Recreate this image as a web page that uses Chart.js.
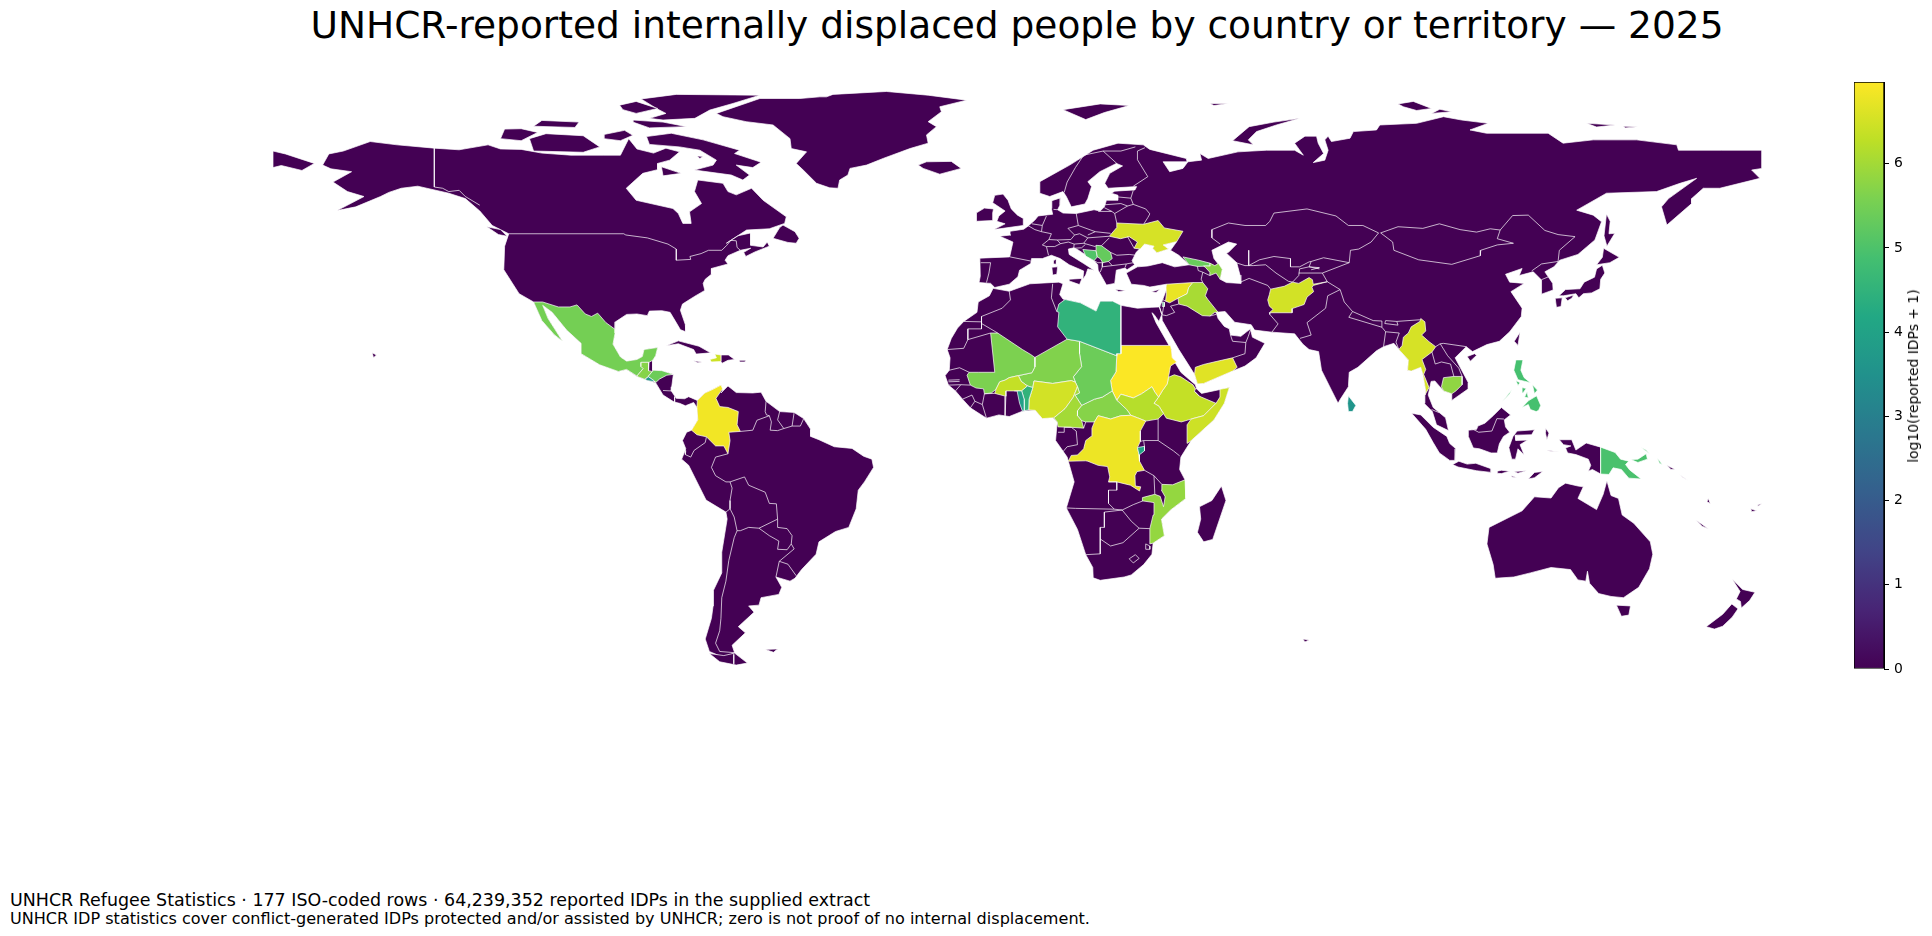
<!DOCTYPE html>
<html>
<head>
<meta charset="utf-8">
<script src="https://cdn.jsdelivr.net/npm/chart.js@4/dist/chart.umd.min.js"></script>
<style>
  html, body { margin: 0; background: #fff; overflow: hidden; font-family: "DejaVu Sans", sans-serif; color: #000; }
  canvas { position: absolute; }
  .txt { position: absolute; white-space: nowrap; }
  #title { left: 1px; width: 2032px; top: 2px; text-align: center; font-size: 37.5px; line-height: 46px; }
  #foot1 { left: 10px; top: 890px; font-size: 17.45px; line-height: 20px; }
  #foot2 { left: 10px; top: 910px; font-size: 16.07px; line-height: 18px; }
  #cblabel { left: 1913px; top: 376px; font-size: 13.9px; transform: translate(-50%, -50%) rotate(-90deg); }
</style>
</head>
<body>
<div class="txt" id="title">UNHCR-reported internally displaced people by country or territory — 2025</div>
<canvas id="map" width="1489" height="579" style="left:273px;top:89px"></canvas>
<canvas id="bar" width="62" height="627" style="left:1854px;top:62px"></canvas>
<div class="txt" id="cblabel">log10(reported IDPs + 1)</div>
<div class="txt" id="foot1">UNHCR Refugee Statistics · 177 ISO-coded rows · 64,239,352 reported IDPs in the supplied extract</div>
<div class="txt" id="foot2">UNHCR IDP statistics cover conflict-generated IDPs protected and/or assisted by UNHCR; zero is not proof of no internal displacement.</div>
<script>
// all outlines are flat lists: lon, lat, lon, lat ...
const countryNames = ['Mexico','Guatemala','Honduras','El Salvador','Colombia','Haiti','Syria','Iraq','Palestine','Ukraine','Georgia','Azerbaijan','Bosnia','Serbia','Afghanistan','Myanmar','Cambodia','Yemen','Ethiopia','Somalia','Sudan','South Sudan','CAR','Chad','Niger','Mali','Burkina Faso','Nigeria','Cameroon','Benin','Togo','DR Congo','Burundi','Mozambique','Libya','Sri Lanka','Philippines','Papua New Guinea'];
const logIdps = [5.5,5.7,5.4,3.8,6.85,6.45,6.75,6.05,4.6,6.55,5.35,5.75,5.05,5.3,6.5,6.55,5.8,6.65,6.35,6.45,6.95,6.2,5.7,5.4,5.65,5.6,6.35,6.5,6.0,4.5,3.9,6.8,4.0,5.85,4.5,3.6,4.9,4.95];
const countryRings = [
  [[-117,32.5,-114.8,32.5,-111,31.3,-108.2,31.3,-106.5,31.8,-104.5,29.6,-103,29,-101.5,29.8,-99.5,27.5,-97.3,25.9,-97.3,25,-97.8,22.3,-96,19.2,-94.5,18.2,-92,18.6,-90.7,19.3,-90.3,21,-87,21.5,-87.5,19.5,-88.2,18.4,-89.1,17.9,-91,17.9,-91,16.9,-90.5,16.4,-92,14.6,-94.5,16.2,-96.5,15.7,-101,17.3,-105.5,20,-105.5,22.5,-109,25.7,-112.5,30,-114.8,31.7,-113.5,28.5,-110,23,-112,24.6,-115,28,-117,32.5]],
  [[-92,14.6,-90.5,16.4,-91,16.9,-91,17.9,-89.1,17.9,-89.2,15.9,-88.3,15.7,-89.2,14.6,-90.1,13.8,-92,14.5,-92,14.6]],
  [[-89.2,14.6,-88.3,15.7,-88.2,16,-86,15.9,-83.2,15,-84.8,14.8,-86.5,13.9,-87.5,13,-87.8,13.4,-89.2,14.4,-89.2,14.6]],
  [[-90.1,13.8,-89.2,14.4,-87.8,13.4,-87.7,13.2,-89.5,13.5,-90.1,13.8]],
  [[-77.4,8.7,-75.6,10.5,-74,11.2,-71.7,12.4,-71.3,11.5,-72.9,9.2,-72,7.2,-70,7,-67.5,6,-67.8,2.8,-67,1.2,-69.8,1,-69.5,-1,-70,-4.2,-71,-2.3,-73,-2.3,-75.2,-0.1,-77.5,0.4,-78.8,1.5,-77.3,4,-77.5,7,-77.4,8.7]],
  [[-71.7,19.7,-73.2,19.9,-72.8,19,-74.4,18.6,-74,18,-71.7,18.1,-71.7,19.7]],
  [[35.9,35.9,36,36.8,42.4,37.2,41.4,36,41,34.5,38.8,33.4,36.8,32.3,35.8,32.7,36,34.6,35.9,35.9]],
  [[42.4,37.2,44.8,37.2,46,35.7,45.4,34,46.1,33,47.7,31,48.5,30,47.7,30,46.5,29.1,44.7,29.2,41,31.5,39,32,38.8,33.4,41,34.5,41.4,36,42.4,37.2]],
  [[35,32.5,35.5,32.4,35.5,31.4,35,31.4,35,32.5],[34.2,31.3,34.5,31.6,34.4,31.2,34.2,31.3]],
  [[22.2,48.4,24,50.5,24,51.6,30.5,51.3,34,52.2,35.5,50.4,40,49.6,38.5,47.1,35.2,46.3,36.5,45.3,33.7,44.4,32.7,45.5,33,46,30.7,46.5,29.7,45.3,28.2,45.5,29,47,27,48.3,24.9,47.8,22.2,48.4]],
  [[40,43.4,41.5,41.5,43.5,41.1,46.6,41.2,46.5,41.9,43.8,42.6,40,43.4]],
  [[46.5,41.9,47.7,41.3,48.6,41.8,49.5,40.4,49,38,48,39.5,46.5,38.9,46.5,39.7,45.5,40.8,45,41.2,46.6,41.2,46.5,41.9]],
  [[15.8,45.2,19,44.9,19.3,43.4,18.5,42.5,16.5,43.6,15.8,45.2]],
  [[19,46.2,20.3,46.1,22.5,44.5,22.9,43,22,42.3,20.6,42,20,43,19.3,43.4,19,44.9,19,46.2]],
  [[60.9,34.3,61.2,35.6,64.5,36.3,66.5,37.3,68,37,70.5,38.4,71.3,37.9,71.5,36.8,74.9,37.4,71.5,36.5,71.2,36,71.6,35,70,33.7,69.3,31.9,66.4,30.9,66.4,29.9,60.9,29.9,61.8,30.7,60.9,31.5,60.5,33,60.9,34.3]],
  [[92.2,21,93,22,93.3,24,94.5,25,95.2,26.5,97.3,27.8,97.5,28.5,98.5,27.7,98.7,25.5,97.7,24.5,99.5,22.9,101.1,21.7,100.2,20.4,97.8,18.6,98.7,16.2,98.2,15,99.5,11.8,98.5,10,98.7,11,98,15,97.5,16.7,95.2,15.8,94.3,16,94.5,18.5,92.2,21]],
  [[102.5,12,103,14.2,105.5,14.5,107.5,14.5,107.5,12.5,106,11,105,10.3,103,11,102.5,12]],
  [[43.5,12.7,42.8,15,43,16.7,45,17.4,48,18.1,52,19,53.1,16.7,52,15.8,45,12.8,43.5,12.7]],
  [[36.5,14.3,37.9,14.9,39.5,14.4,42.4,12.5,43,11.5,42.8,10.9,44,9.7,48,8,45,5,42,4.2,41,3.9,39.6,3.5,36,4.4,35.3,5.5,34.2,7.3,33,8,34.1,9.5,35,11,36.2,12.7,36.5,14.3]],
  [[48.95,11.4,51.2,11.8,50,8,47.5,4,42,-1,41,-1.7,41,2.8,42,4.2,45,5,48,8,48.95,9.5,48.95,11.4]],
  [[24,20,25,20,25,22,37,22,37.2,21,37.4,19,38.5,18,37,17,36.5,14.3,36.2,12.7,35,11,34.1,9.5,33.2,10.7,32.5,12,30,10.3,28,9.3,25,10.2,24,8.7,22.9,11,22.5,13.5,23.8,15.6,24,19.5,24,20]],
  [[24,8.7,25,10.2,28,9.3,30,10.3,32.5,12,33.2,10.7,34.1,9.5,33,8,34.2,7.3,35.3,5.5,34,4.2,31,3.7,29,4.5,27.4,5.1,26.4,6.5,24.5,8.3,24,8.7]],
  [[14.5,6.2,15.5,7.5,18.6,9,20.5,9.5,22.9,11,24,8.7,24.5,8.3,26.4,6.5,27.4,5.1,25,5,22.5,4.2,19.5,5,18.6,3.5,16.5,3.5,15.5,3.8,14.5,5,14.5,6.2]],
  [[15,23,24,19.5,23.8,15.6,22.5,13.5,22.9,11,20.5,9.5,18.6,9,15.5,7.5,13.9,10,15,10.5,14.5,12,14,13.1,13.5,14.4,15.5,16.9,15,20,15,23]],
  [[4.2,19.1,12,23.5,15,23,15,20,15.5,16.9,13.5,14.4,14,13.1,13,13.5,8.5,12.8,4,13.4,3.7,11.8,2.4,12.2,0.9,13.3,0.2,14.7,3.5,15.4,4.2,16.8,4.2,19.1]],
  [[-6.5,25,-4.8,25,1.2,21,3.2,19.8,4.2,19.1,4.2,16.8,3.5,15.4,0.2,14.7,-2,14.2,-3,13.6,-4.3,13.2,-5.2,11.4,-6.3,10.5,-8,10.3,-8.2,11.5,-10,11.7,-11.4,12.4,-12.2,14.8,-11.7,15.5,-9.5,15.5,-5.5,15.5,-6.5,25]],
  [[-2.8,9.7,-5.5,10.4,-5.2,11.4,-4.3,13.2,-3,13.6,-2,14.2,0.2,14.7,0.9,13.3,2.4,12.2,1,11,-0.8,11,-2.8,11,-2.8,9.7]],
  [[2.7,6.4,2.8,9,3.7,11.8,4,13.4,8.5,12.8,13,13.5,14,13.1,14.5,12,13.5,9.5,11.5,6.7,8.8,4.5,6,4.3,4.3,6.3,2.7,6.4]],
  [[8.8,4.5,11.5,6.7,13.5,9.5,14.5,12,15,10.5,13.9,10,15.5,7.5,14.5,6.2,14.5,5,15.5,3.8,16,2,13,2.2,9.8,2.3,9.6,3.5,8.8,4.5]],
  [[1.6,6.2,2.7,6.4,2.8,9,3.7,11.8,2.4,12.2,1,11,1.6,9,1.6,6.2]],
  [[1.2,6.1,1.6,6.2,1.6,9,1,11,-0.1,11,0.5,8,1.2,6.1]],
  [[12.3,-6,13,-4.6,14.5,-4.5,16,-3,16.5,-1,17.8,0,18,2,18.6,3.5,19.5,5,22.5,4.2,25,5,27.4,5.1,29,4.5,31,3.7,29.7,1.3,29.7,-1.2,29,-2.7,29.4,-4.5,29.5,-6,30.7,-8.2,28.9,-8.5,28.4,-9.5,28.5,-12,29.8,-12.2,29.5,-13.2,27.3,-11.8,24,-11,22,-11,22.3,-9.8,21.8,-7.3,19.5,-7,17,-6,16.5,-5.9,12.3,-6]],
  [[29,-2.7,30.7,-2.4,30.7,-3.5,29.4,-4.5,29,-2.7]],
  [[40.5,-10.5,40.7,-15,37,-17.8,34.8,-20,35.5,-24,32.8,-25.8,32,-26,32,-22.3,32.8,-19,33,-16,30.3,-15.6,30.2,-14.8,33.2,-14,34.5,-14.5,35.3,-17,35.7,-14.6,34.8,-13,34.9,-11.6,37.5,-11.7,40.5,-10.5]],
  [[10,30,9.5,30.2,10,32,11.5,33.1,15.2,32.3,19,30.3,20,32.7,23,32.7,25,31.7,25,20,24,20,24,19.5,15,23,12,23.5,9.7,26.5,10,30]],
  [[80,9.8,81.8,7.5,81,6,80,6,79.8,8,80,9.8]],
  [[120.5,18.5,122.2,18.5,121.7,16,122.5,14.2,124,13,121,13.7,120,16,120.5,18.5],[122,7,123.5,8.6,125.5,9.8,126.5,7.5,126,6.3,125.4,6,124,6.5,123.5,7.7,122,7],[124.5,12.5,125.7,11.2,125,10.3,124.5,12.5],[122,11.8,123,11.6,122.2,10.5,122,11.8],[123.2,10.8,123.5,9.3,122.6,9.5,123.2,10.8],[117.2,8.4,119.5,11.3,119,10.3,117.2,8.4],[120.5,13.5,121.5,13,121,12.3,120.5,13.5]],
  [[141,-2.6,144.5,-3.9,145.8,-5.5,147.8,-6,147,-6.8,148,-8.1,150.8,-10.3,147.8,-10.1,146,-8,144,-7.6,143,-9.2,141,-9.1,141,-2.6],[148.3,-5.6,150,-5.5,152,-4.2,152.3,-5.5,150,-6.3,148.3,-5.6],[150.8,-2.7,152.8,-4.2,152,-3.3,150.8,-2.7],[154.7,-5.2,155.9,-6.8,155.2,-6.5,154.7,-5.2]]
];
// land with no reported IDPs, drawn first at value 0
const landRings = [
  [-168,65.6,-166.5,68.3,-163,69,-156.5,71.3,-150,70.5,-141,69.7,-135,69.3,-128,70.5,-125,69.5,-120,69.4,-115,68.5,-108,68,-100,68,-96,68,-94,72,-92,69.5,-88,68.5,-85,69.7,-81.7,68.8,-84.1,66.8,-87,66,-87,64.5,-90.6,63.6,-94.6,60,-92.2,57.1,-83.3,55.1,-82,53.9,-80.9,51.5,-78.9,51.5,-79.3,54.3,-76.4,56.3,-78.1,59.2,-77.3,62,-71.2,61.2,-70,59.2,-68,58.4,-64.3,60,-61.5,57.1,-55.9,53.1,-56.3,51.5,-60,50.2,-65.5,49.9,-70.4,46.7,-67.6,48.5,-64.5,49.2,-64.5,47.9,-64.5,46.2,-61.5,45.8,-60.5,47,-60,46,-63.5,44.6,-65.7,43.5,-66.2,44.5,-64.5,45.5,-67,45,-70,43.7,-70.7,42.6,-70,41.7,-74,40.6,-74,39.2,-75.5,38,-76,37,-75.6,35.3,-78,33.9,-81,32,-81.5,30.5,-80.3,27,-80.2,25.3,-81.5,25.8,-82.8,28,-84,30,-86,30.4,-89,30.3,-89.5,29.2,-92,29.6,-94.5,29.5,-97.2,27.7,-97.3,25,-97.8,22.3,-96,19.2,-94.5,18.2,-92,18.6,-90.7,19.3,-90.3,21,-87,21.5,-87.5,19.5,-88.2,18.4,-88.2,16,-86,15.9,-83.2,15,-83.6,12,-83.7,11,-82.5,9.2,-80.5,9.1,-79.5,9.6,-77.4,8.7,-75.6,10.5,-74,11.2,-71.7,12.4,-71.3,11,-71.7,10.5,-70,12.2,-68,10.6,-64,10.5,-62,10.7,-60.8,8.5,-57.5,6,-54,5.8,-51.7,4.3,-50,1.7,-50,0,-48,-0.8,-44.3,-2.5,-40,-2.9,-37.2,-4.8,-35.2,-5.5,-34.8,-7.5,-37,-11,-38.5,-13,-39,-17.5,-40.8,-22,-44,-23,-48,-25.5,-48.7,-28.5,-52.2,-32.2,-53.8,-34.3,-55,-35,-58.4,-34,-57,-36.5,-57.7,-38.2,-62,-39,-62.5,-40.8,-65,-41,-63.7,-42.5,-65.3,-44,-67.5,-46,-65.8,-47.5,-69,-50.5,-68.4,-52.3,-71,-53.5,-74.5,-52,-75.5,-49,-74,-44,-73.6,-41,-73.5,-37.2,-71.5,-33,-71.5,-28,-70.2,-20,-70.5,-18.3,-75.3,-15.4,-77,-12,-79.5,-7,-81.2,-5.5,-80.2,-3,-81,-1,-80,1,-78.8,1.5,-77.3,4,-77.5,7,-78.3,8.2,-80.3,7.4,-81.7,8,-83,8.3,-85.7,10,-87.5,13,-89.5,13.5,-92,14.5,-94.5,16.2,-96.5,15.7,-101,17.3,-105.5,20,-105.5,22.5,-109,25.7,-112.5,30,-114.8,31.7,-113.5,28.5,-110,23,-112,24.6,-115,28,-117,32.5,-120.5,34.5,-124.2,40.3,-124,46,-123,49,-127,51,-130,54.5,-133.5,57.5,-137.5,58.8,-145,60.5,-149,60,-152,59,-154,58,-160,55.5,-164.5,54.6,-158,58,-162,59.2,-165.5,61.5,-161,64,-166,64.7,-168,65.6],
  [-68.4,-52.4,-65.3,-54.8,-68,-55.3,-72,-54.5,-74.5,-52.5,-71,-53,-68.4,-52.4],
  [-46.2,82.1,-44.6,82.7,-31.7,83.4,-21.6,82.5,-12.3,81.3,-18.8,79.7,-18.4,78.5,-21.6,76.1,-19.6,74.9,-22,72.9,-21.6,70.9,-26,69.6,-32.5,67.2,-36.5,65.6,-40.5,64.8,-41,63.2,-43,62,-43.4,60,-45.4,60.1,-48.6,61.2,-51.8,64.4,-53.5,66,-51,68.8,-54.7,69.6,-55,72,-59.1,75.3,-65.6,76.1,-71.2,77.3,-72.8,78.1,-62.3,81.7,-52.6,81.7,-47.8,82.1,-46.2,82.1],
  [-89.7,72.5,-83.7,73.3,-76,71.7,-67.2,69.2,-68.4,68.4,-62,66.3,-64,65,-68,65.6,-64.8,63.2,-66.4,62,-69.2,63.2,-78.1,64.4,-73.6,65.6,-72.8,66.8,-76.8,69.2,-81.7,70,-89,70.6,-89.7,72.5],
  [-117,69,-105,68.7,-101,70,-105,72.7,-114,73.2,-118,72,-117,69],
  [-125,72,-120,71.5,-116,73.5,-120,74.4,-124,74.3,-125,72],
  [-91,81.6,-82.5,82.7,-62.3,82.5,-68.8,80.5,-74.4,78.9,-78,76.9,-85.7,76.5,-89,76.9,-85,78.1,-87.3,79.3,-91,81.6],
  [-93,76,-89,74.6,-80,74.9,-85.7,76,-93,76.5,-93,76],
  [-117,75,-107,74.7,-106,76,-115,76.4,-117,75],
  [-96.2,80.1,-92.2,81,-87,79.3,-92.2,78.1,-95.4,79,-96.2,80.1],
  [-86.1,65.2,-81.3,63.6,-85.7,63,-86.1,65.2],
  [-77.5,67.8,-76,67.7,-76.8,67.2,-77.5,67.8],
  [-100,72,-96,71.5,-93,72.8,-95,74,-100,73,-100,72],
  [-59.1,47.9,-55.5,46.9,-53.5,46.7,-52.8,47.9,-53.8,49.5,-56.7,51.1,-57.5,50.5,-59.1,47.9],
  [-128.3,50.7,-125,50,-123.4,48.4,-125.5,48.8,-128.3,50.7],
  [-84.9,21.9,-82,23.1,-77,21.8,-74.2,20.2,-77.7,19.9,-78.3,21,-82,22.4,-84.9,21.9],
  [-71.7,19.7,-69.9,19.7,-68.4,18.6,-70,18.4,-71.4,17.7,-71.7,18.1,-71.7,19.7],
  [-78.3,18.3,-76.3,18,-77.3,17.8,-78.3,18.3],
  [-67.2,18.4,-65.7,18.4,-65.9,18,-67.2,18,-67.2,18.4],
  [-156,20.2,-155,19.7,-155.7,19,-156,20.2],
  [-61,-51.5,-58,-51.4,-59,-52.2,-61,-51.5],
  [-180,69,-177,68.3,-170,66,-173,64.3,-178,65.5,-180,65,-180,69],
  [-9,38.7,-9.1,43.1,-1.9,43.4,-1.1,47,-4.3,48.4,-1.6,48.7,-1.8,49.6,1.5,50.1,2.6,50.9,4.2,52.3,5,53.3,6.6,53.5,8.5,53.7,8.2,55.1,8.3,57,10.5,57.7,10.3,56,9.7,54.8,11,54,14.2,53.9,18.5,54.8,20,54.5,21,55.5,21.5,57.1,24.3,57.1,24.3,58.3,22.7,58.8,23.5,59.3,28.4,59.6,28.8,60.4,21.9,60,21.1,61.2,22.3,63.6,25.4,65.4,23.9,66,19.9,64,17,61.6,17.9,60.4,17,57.5,16.3,56.2,13,55.5,11.8,58,11,59.2,7.8,58,5.4,58.8,5.4,61.6,12.6,65.6,18.3,69.2,24.3,70.9,30.4,70.5,32,69.4,40.8,67.2,41,66.4,35.2,66.4,36.8,64,40,64.8,41.2,66.4,44.5,66.8,44.1,68.4,46.1,67.2,53.3,68.8,60.2,69.2,67,69.2,69.1,68,67,70.9,69.5,72.6,72.3,72.6,72.7,70.9,74,68.4,71.5,66.2,74.3,66.8,75.1,69.2,74.3,71.7,75.1,72.6,75.9,71.3,80.4,72.1,81.2,73.7,86.8,74.1,87.6,75.3,96.5,75.7,103,77.3,107.4,76.5,113.8,75.7,109.4,74.1,113.4,73.3,128.3,73.3,131.9,70.9,139.2,71.7,149.7,71.7,159.4,70.5,159.8,69.2,170.3,69.2,180,69.2,180,64.8,177.5,64.4,179.5,62.4,169.8,60,165.8,60,163,57.5,163,56.3,157,51.1,155.7,55.5,157.4,57.5,164.2,62.4,160.2,61.2,154.5,59.2,142.4,58.8,135.2,54.7,139.2,53.5,141.2,51.9,139.6,47.5,135.5,44,131.1,42.6,129.7,41,127.5,39.8,129.4,37,129.5,35.4,126.7,34.4,126.7,37.8,124.7,39.8,121.3,38.9,122,40.6,118,39.2,119,37.3,122.5,37,119.3,35,122,31,121.8,29,119,25.3,116.5,23,113.5,22.2,110,20.5,108.5,21.7,105.8,19,109,13,109,11.5,105,8.7,105,10.3,103,11,100.9,13.4,100,13.3,99.3,10,100.5,7,103.5,4.5,104.2,1.4,101.3,2.8,100.3,6,98.3,8,98.5,10,98.7,11,98,15,97.5,16.7,95.2,15.8,94.3,16,94.5,18.5,92.2,21,91,22.5,88.5,21.7,86.8,20.7,82.3,16.7,80.2,15.5,80,12,78,8.9,77.5,8,76,11,73.5,16,72.8,20.5,70.5,21,69,22.3,67,24.8,61.5,25.2,57.3,25.7,56.5,27,52.5,27.6,50.2,30.2,48,30,48.5,28.5,50,26.6,51.2,26,51.5,24.5,54,24.2,56.3,26,56.8,24,59.8,22.5,57.7,19,55,17,52,15.8,45,12.8,43.5,12.7,42.8,15,39,21,35,28,34.9,29.5,34.3,31.3,35,32.8,36,35.5,36,36.8,32,36.1,30.5,36.5,27.5,36.8,26.3,39.5,29,41,31.5,41.2,35,42,38,41,41.5,41.5,39,43.8,37,45,38.5,47.1,35.2,46.3,36.5,45.3,33.7,44.4,32.7,45.5,33,46,30.7,46.5,28.7,44.5,27.7,42.5,28.3,41.5,26.5,40.3,26,40.7,23.9,40.2,23.5,37,21.5,36.6,19.5,40.2,19.4,41.5,18.5,42.5,14.5,45.2,13.6,45.6,12.3,45.3,12.5,44,16,41.8,18.5,40.2,17,40.5,16.5,39,15.8,38,16,40,12.5,41.5,10.3,43,8.2,43.8,6,43,3.4,43,3.2,41.8,0.5,40.2,0.1,38.6,-2,36.8,-5.5,36,-6.5,37,-9.3,37.2,-9,38.7],
  [-5.7,50,1.4,51,1.4,52.7,0,53.5,-1.5,55,-2.3,57.1,-3.5,58.6,-5.5,58.3,-6,56.5,-3,54.5,-4.5,53.3,-5,52,-3,51.4,-5.7,50],
  [-10,52,-6,52.2,-6,54,-5.8,55,-8,55.2,-10,54,-10,52],
  [-24,65.6,-22,66.4,-16,66.5,-13.6,64.8,-18.8,63.4,-22.8,64.8,-24,65.6],
  [11,79,20,80.4,27,80,21,78.3,16.5,76.6,11,79],
  [52,71.5,56,74.9,62,76,68.3,76.9,62.6,75.3,57.8,73.7,55.8,71.7,57,70.5,52,71.5],
  [46.5,80.5,51,80.5,47.5,80,46.5,80.5],
  [92,80.4,95.7,81,100.1,79.3,96.5,78.8,93.3,79.7,92,80.4],
  [100.1,78.1,102.1,79.1,105,78.5,100.1,78.1],
  [137.6,75.7,144.5,75.3,140,74.8,137.6,75.7],
  [146.5,75,150,74.9,147,74.6,146.5,75],
  [142.4,53.8,143.3,52,143,49,144.4,49.1,142.5,46,141.8,48.5,142.4,53.8],
  [140,41.5,143.2,42,145.5,43.3,141.7,45.5,141.4,43.3,140,41.5],
  [130.9,34,132.5,35.5,136,35.7,137,37.3,139.5,38.5,140,40.5,141.4,41.4,142,39.5,141,38,140.8,35.7,138.8,34.7,136.8,34.5,135.7,33.5,135,34.5,132,34,130.9,34],
  [130,33.4,131.7,33.5,131.4,31.4,130.3,31.2,130,33.4],
  [132.4,33.5,134.5,34.2,134,33.4,133,32.8,132.4,33.5],
  [121.5,25.2,121,22,120.1,23,121.5,25.2],
  [108.7,19.3,110.5,20,111,19.6,109.5,18.2,108.7,19.3],
  [95.3,5.6,97.5,5.2,100.5,2.2,103.8,0,104.5,-1.7,106,-3,105.8,-5.8,104.5,-5.8,102,-4,100.5,-1.5,98.7,1.7,95.3,5.6],
  [105.2,-6.8,106.7,-6,108.7,-6.7,110.8,-6.5,114.5,-7.8,114.5,-8.7,111,-8.3,106.5,-7.4,105.2,-6.8],
  [116,-8.4,117,-8.2,119,-8.4,117,-9,116,-8.9,116,-8.4],
  [120,-8.5,123,-8.3,121,-8.9,120,-8.5],
  [123.5,-10.3,125,-8.7,127,-8.5,125,-10,123.5,-10.3],
  [119.5,-9.5,120.8,-10,119.5,-9.8,119.5,-9.5],
  [109,1.5,111,1.7,111.3,2.5,113,3.2,115,5,117,7,119.2,5.2,117.7,4,118,2.3,119,1,117.5,0,116.5,-1.8,116,-4,114.5,-4,111.7,-3,110.2,-2.8,109,0,109,1.5],
  [119.5,-5.5,118.8,-2.7,119.8,0,120.8,1.3,125,1.6,124.3,0.4,120.3,0.3,120.5,-1,123.3,-0.9,121.5,-2,122.5,-4.5,121,-3,120.4,-5.5,119.5,-5.5],
  [127.7,2,128.5,0.8,128,-0.8,127.6,1,127.7,2],
  [128,-3.3,130.8,-3.8,128.5,-3.5,128,-3.3],
  [131,-0.8,134,-0.8,135,-3.3,137.5,-1.6,141,-2.6,141,-9.1,139,-8,138,-8.4,138.6,-7,138,-5.5,135,-4.4,133,-4,132.5,-2.8,133.8,-2.3,132,-2,131,-0.8],
  [157,-7,159,-8,158,-8,157,-7],
  [160,-9.2,162,-10.6,161,-10,160,-9.2],
  [167,-15,167.5,-16.2,166.7,-15.8,167,-15],
  [164,-20.2,167,-22.3,165.5,-21.7,164,-20.2],
  [177.3,-17.5,178.7,-18,177.5,-18.2,177.3,-17.5],
  [179,-16.5,180,-16.2,179,-16.9,179,-16.5],
  [114,-22,122,-18,125,-14.6,129,-14.9,130.8,-12.4,132.5,-11.3,135.5,-12,136.8,-12.2,135.5,-15,140,-17.7,141.6,-14,142.5,-10.7,143.5,-14.3,145.3,-15,146.2,-19,149,-21,153,-25.5,153.6,-28.5,152.8,-32,150.2,-36.5,146.5,-39,143.5,-38.7,140.5,-38,138.3,-35.5,137.8,-32.6,137.4,-35,135.5,-34.7,133.7,-32.2,129,-31.7,124,-33,120,-34,115.5,-34.3,115,-31,113.5,-26,114,-22],
  [144.8,-40.8,148.2,-41,147.8,-43.2,146,-43.5,144.8,-40.8],
  [172.8,-34.5,175.3,-37,178.3,-37.7,177,-39.7,175,-41.5,174.8,-39.9,173.8,-39.3,174.7,-37.5,172.8,-34.5],
  [172.7,-40.5,174.2,-41.7,172.8,-43.7,170.5,-45.9,168.5,-46.6,166.5,-46,170.5,-43,172.7,-40.5],
  [49.3,-12,50.4,-15.5,47.2,-24.9,45,-25.5,43.5,-23.2,44.3,-20,44,-17,47,-15.5,49.3,-12],
  [12.5,38,15.6,38.2,15,36.7,12.5,37.6,12.5,38],
  [8.3,40.9,9.7,41,9.5,39.2,8.5,39,8.3,40.9],
  [8.7,42.5,9.5,43,9.4,41.6,8.8,41.7,8.7,42.5],
  [23.6,35.6,26.2,35.3,24.5,35,23.6,35.6],
  [32.3,35,34.5,35.6,33.5,34.8,32.3,35],
  [69,-49,70.5,-49.2,69.5,-49.7,69,-49],
  [-5.9,35.8,-2,35.1,3,36.9,10,37.3,11,36.9,10.2,34.3,11,33.2,15.2,32.3,19,30.3,20,32.7,23,32.7,25,31.7,29,31,32.3,31.2,34.3,31.3,34.9,29.5,34.2,27.8,33,29.5,32.5,29.9,33.5,27.5,35.5,24,37.2,21,37.4,19,39.5,15.5,43,12.5,43.3,11.5,44.5,10.4,51.2,11.8,50,8,47.5,4,42,-1,39.5,-5,39.2,-8,40.5,-10.5,40.7,-15,37,-17.8,34.8,-20,35.5,-24,32.8,-25.8,32.5,-28.5,30.5,-31,27.5,-33.5,25.8,-34,20,-34.8,18.3,-34.2,18.2,-31.7,16.5,-28.6,14.5,-22.5,11.8,-17.3,13.7,-11,12,-5,9.2,-1,9.6,3.5,8.5,4.5,6,4.3,4.3,6.3,1.2,6.1,-2,4.8,-4.5,5.2,-7.5,4.4,-11.4,6.9,-13.3,9,-15,11,-16.7,12.4,-17.5,14.7,-16.5,16,-16.3,19,-17,21,-16,23.7,-14.5,26.2,-13,27.8,-9.8,30,-9.5,32.5,-6.8,34,-5.9,35.8]
];
const caspianRing = [47,45,51,47,53,46.5,51,44.5,50.5,44.3,53,42,53.8,39,54,37,50.5,37.2,49,38,49.5,40.4,47.5,43,47,45];
// borders between countries at value 0
const borderLines = [
  [-141,69.7,-141,60.3,-139,60,-137.5,59.2,-135,59.5,-133.5,58,-130,55.9],
  [-123,49,-95.2,49,-94.7,48.7,-89.5,48,-84.5,46.5,-82.5,45.3,-82.5,42.6,-79,42.8,-79.2,43.5,-76.5,44.2,-74.7,45,-71.5,45,-70.3,46.2,-69.3,47.4,-68,47.3,-67.8,45.7,-67,45],
  [-83.7,11,-85.7,11.1],[-82.9,9.6,-82.9,8.1],
  [-60.8,8.5,-61,6,-60.7,5.2,-60,5,-63,3.9,-64,1.5,-67,1.2],[-60,5,-59.5,3.5,-59.8,1.5,-58,1.4,-56.5,1.9],[-57.5,6,-58,4,-56.5,1.9,-54.5,2.5,-52.5,2.5,-51.7,4.3],[-54,5.8,-54.5,2.5],
  [-80.2,-3.4,-80.3,-4.4,-79,-5,-78.2,-3.4,-75.5,-1.5,-75.2,-0.1],
  [-70,-4.2,-73,-5,-74,-7.5,-73,-9.5,-70.5,-11,-69.5,-11,-69,-12.5,-69.5,-15.5,-69.5,-17.5,-70.5,-18.3],
  [-69.5,-11,-66,-9.8,-65,-11.8,-61,-13.5,-60,-16.2,-58.3,-16.3,-58,-20,-62.5,-22.2,-65,-22,-67,-22.8,-67.8,-22.8,-68.5,-19.5,-69.5,-17.5],
  [-62.5,-22.2,-60,-24,-57.7,-25.3,-58,-27.3,-55.7,-27.4,-54.7,-26,-54.5,-24,-55.7,-22.3,-58,-22,-58,-20],
  [-54.7,-26,-54,-27.2,-57.6,-30.2,-58.4,-34],[-57.6,-30.2,-55.5,-30.9,-53.5,-33.7],
  [-67.8,-22.8,-68.5,-24.5,-69.8,-30,-70.5,-35,-71.5,-39,-71.7,-44,-72,-47,-73,-50,-72,-52,-68.4,-52.3],[-68.6,-52.7,-68.6,-55],
  [-8.9,42,-6.5,42,-6.9,39.5,-7.5,37.2],[-1.8,43.4,3.2,42.4],
  [2.5,51,4.2,50,5.8,49.5,8.2,49,7.6,47.6,6,46.3,7,45.9,7.5,43.8],[3.5,51.4,6,51,7,53.3],[6,51,5.8,49.5],[8.7,54.9,9.7,54.8],
  [14.2,53.9,14.7,51,12.2,50.3,13.8,48.7,12.9,47.6,9.6,47.5,7.6,47.6],[7,45.9,9,45.9,10.4,46.6,9.6,47.5],[10.4,46.6,12.3,47,13.7,46.5,16,46.7,17,48,15,49,13.8,48.7],
  [13.7,46.5,13.6,45.6],[13.6,45.5,15.5,45.6,16.4,46.4],[16,46.7,18.8,45.9,19,46.2],[20.3,46.1,22.2,48],[17,48,22.2,48.4],[17,48.7,18.8,49.5,22.5,49.1],[14.7,51,18.8,49.5],
  [24,51.6,23.5,53.9,22.8,54.4,19.5,54.4],[22.8,54.4,21,55.3],[21,56,25,56.3,26.6,55.7,23.5,53.9],[24.3,57.9,27.4,57.6,28,59.5],[27.4,57.6,28,56.1,26.6,55.7],[28,56.1,31,55,32,53.8,31.5,52.9,30.5,51.3],
  [28,60.5,31.5,62.8,29,66.9,29,69,30.8,69.8],[28.5,70,25,69,20.7,69,24,66,24.2,65.8],[20.7,69,16,68,14,65,12,61.5,11.3,59],
  [26.6,48.3,28.2,45.5],[22.5,44.5,24,43.8,27,44,28.6,43.8],[22.9,41.3,26.3,41.7,28,42],[26.3,41.7,26,40.8],[22,42.3,22.9,41.3,20.5,41,20,39.7],[19.4,42,20.6,42,20.5,41],[18.5,42.5,19.4,42],
  [44.8,37.2,44.4,38,44.8,39.7,43.7,40.1,43.5,41.1],[44.8,39.7,46.5,38.9],
  [53.9,37.3,56,38.2,60.5,36.5,61.2,35.6],[60.9,29.9,61,29.5,63,27.2,61.5,25.2],
  [68.3,23.7,71,24.5,70,27.5,74.5,31,75,34,78,35.5,79,32.5,81,30.2,80.1,28.8,88.1,26.4,88.1,27.9,86,28,81,30.2],[88.8,27.3,92,26.9,91.7,27.8,89,28,88.8,27.3],[91.7,27.8,97.3,28.2],
  [88.5,21.7,89,25.3,88.1,26.4],[89,25.3,92.3,25,91.5,22.8,92.2,21],
  [74.9,37.4,78,35.5],[74.9,37.4,73.7,39.5,80.2,42,80.5,45,82.5,45.3,85.5,47,87.3,49.2,83.5,51,80,51,77,53.3,70,55,62,54,61,52,60,51,55,51,51,51.6,47,50,47,48,49,46.5],
  [55.9,45,55.9,41.3,58.5,42.7,62,43.5,66,43,66,41,68.2,41,70.5,42.2,71,42.3,74,43.2,80.2,42],[52.8,42,55,41.3,55.9,41.3,57,41.3,60,41.5,62.5,39.5,65.5,37.5,66.5,37.3],[66.5,37.3,68,38.9,68.2,40.5,70.5,41,73,40.5],[68,39.5,73.7,39.5],[71,42.3,70.5,41,73,40.8,71,40.3],
  [87.8,49.2,92,50.7,98,50.3,102,51.4,107,50,111,49.4,114.3,50.2,116.7,49.9,116,47.8,119.9,46.7,116,46.3,112,45,111.9,43.7,105,41.6,97,42.7,91,45,90.7,47,87.8,49.2],
  [116.7,49.9,119.7,53.4,123.5,53.5,127.5,49.8,130.7,48.8,134.8,48.3,131,45,130.7,42.3,126.7,41.7,124.3,40],[126.7,37.9,128.4,38.6],
  [108.5,21.7,103,22.5,102.2,22.4,101.1,21.7],[100.2,20.4,101,17.5,102.5,18,104.7,17.5,105.5,14.5],[102.2,22.4,104,19.5,106.7,16.5,107.5,14.5],[100.1,6.5,101.8,5.8,102.1,6.2],[109.6,2,111.5,1,114.7,1.3,115.9,4.3,117.6,4.2],
  [35.1,33.1,35.8,32.7],[35.5,32.4,35,29.5],[39,32,37,31.5,38,30,36,29.2,34.9,29.4],[46.5,29.1,48,29.5],[51.5,24.5,52,23,55.2,22.7,55.8,24.2,56.3,25.7],[55.2,22.7,55,20,52,19],[34.3,31.3,34.9,29.5],
  [-2,35.1,-1.7,33,-3.7,31,-8.7,29,-8.7,27.3,-4.8,25],[-13,27.8,-8.7,27.7,-8.7,26,-12,26,-12,23.4,-13,21.3,-17,21],[-12,23.4,-6.5,25],[8.5,36.9,8.2,33.5,9.5,30.2],
  [-16.5,16,-14,16.6,-11.7,15.5],[-16.7,13.6,-14,13.7],[-16.7,13.2,-14,13.3],[-16.7,12.4,-13.7,12.5,-11.4,12.4],[-15,11,-13.7,12.5],[-13.3,9,-11,10,-10.3,8.5,-11.4,6.9],[-10.3,8.5,-8.5,7.7,-7.5,4.4],[-8.5,7.7,-8,10.3],[-5.5,10.4,-8,10.3],[-2.8,9.7,-3,5],[-0.1,11,-0.8,11],
  [9.8,1,11.3,1,11.3,2.2],[11.3,2.2,13,2.2,14.2,1.3,14.5,-2,12,-2.5,11,-3.7],[16,2,16.5,3.5],
  [11.8,-17.3,14,-17.4,18.5,-17.5,23.4,-17.6,25.3,-17.8],[22,-11,24,-11,24,-13,22,-13,22,-16.2,23.4,-17.6],[25.3,-17.8,21,-18.3,21,-22,20,-22,20,-28.4,16.5,-28.6],[20,-24.8,22.5,-26.5,25.5,-25.7,29.4,-22.2,32,-22.3],[25.3,-17.8,27.5,-20.5,29.4,-22.2],[25.3,-17.8,28,-16.5,30.3,-15.6],
  [34,-1,37.7,-3.5,39.2,-4.7],[34,-1,30.5,-1,30.7,-2.4],[29.7,-1.2,30.5,-1],[34,-1,34,4.2],[30.7,-8.2,33,-9.5,34.9,-11.6],[33,-9.5,33.2,-14],[29.4,-4.5,29.5,-6],
  [27,-29.6,28.5,-28.6,29.4,-29.5,28,-30.6,27,-29.6],[31,-26,32,-26.5,32,-27.3,31,-27.3,31,-26],[43,11.5,43.3,11.5],[42.8,10.9,44,9.7]
];
const barTicks = [0,1,2,3,4,5,6];
const barMax = 6.97;
const viridis = ['#440154','#482475','#414487','#355f8d','#2a788e','#21918c','#22a884','#44bf70','#7ad151','#bddf26','#fde725'];

function hex(c) {
  return [1,3,5].map(i => parseInt(c.slice(i, i + 2), 16));
}
function colourFor(v) {
  const t = Math.min(v / barMax, 1) * (viridis.length - 1);
  const i = Math.min(Math.floor(t), viridis.length - 2);
  const a = hex(viridis[i]), b = hex(viridis[i + 1]);
  const m = a.map((x, k) => Math.round(x + (b[k] - x) * (t - i)));
  return `rgb(${m[0]},${m[1]},${m[2]})`;
}
function toPoints(flat) {
  const pts = [];
  for (let i = 0; i < flat.length; i += 2) pts.push({ x: flat[i], y: flat[i + 1] });
  return pts;
}
function ringSet(flat, fillColour, label) {
  return { label, data: toPoints(flat), showLine: true, fill: 'shape', backgroundColor: fillColour, borderColor: '#fff', borderWidth: 0.7, pointRadius: 0, tension: 0 };
}

const datasets = [];
landRings.forEach(r => datasets.push(ringSet(r, colourFor(0), 'no reported IDPs')));
datasets.push(ringSet(caspianRing, '#fff', 'Caspian Sea'));
countryNames.forEach((name, i) => {
  countryRings[i].forEach(r => datasets.push(ringSet(r, colourFor(logIdps[i]), name)));
});
borderLines.forEach(l => datasets.push({ label: 'border', data: toPoints(l), showLine: true, fill: false, borderColor: '#fff', borderWidth: 0.7, pointRadius: 0, tension: 0 }));
// chart.js paints the first dataset last
datasets.reverse();

new Chart(document.getElementById('map'), {
  type: 'scatter',
  data: { datasets },
  options: {
    responsive: false,
    animation: false,
    layout: { padding: 0 },
    plugins: { legend: { display: false }, tooltip: { enabled: false } },
    scales: {
      x: { type: 'linear', min: -180, max: 180, display: false },
      y: { type: 'linear', min: -56, max: 84, display: false }
    }
  }
});

new Chart(document.getElementById('bar'), {
  type: 'bar',
  data: {
    labels: [''],
    datasets: [{
      data: [[0, barMax]],
      barPercentage: 1,
      categoryPercentage: 1,
      borderColor: '#000',
      borderWidth: 1,
      borderSkipped: false,
      backgroundColor: c => {
        const a = c.chart.chartArea;
        if (!a) return viridis[0];
        const g = c.chart.ctx.createLinearGradient(0, a.bottom, 0, a.top);
        viridis.forEach((col, i) => g.addColorStop(i / (viridis.length - 1), col));
        return g;
      }
    }]
  },
  options: {
    responsive: false,
    animation: false,
    layout: { padding: { top: 20, bottom: 20, left: 0, right: 0 } },
    plugins: { legend: { display: false }, tooltip: { enabled: false } },
    scales: {
      x: { display: false },
      y: {
        position: 'right',
        min: 0,
        max: barMax,
        afterBuildTicks: s => { s.ticks = barTicks.map(value => ({ value })); },
        afterFit: s => { s.width = 32; },
        grid: { drawOnChartArea: false, tickLength: 5, color: '#000' },
        border: { color: '#000' },
        ticks: { color: '#000', padding: 5, font: { family: 'DejaVu Sans', size: 13.9 } }
      }
    }
  }
});
</script>
</body>
</html>
